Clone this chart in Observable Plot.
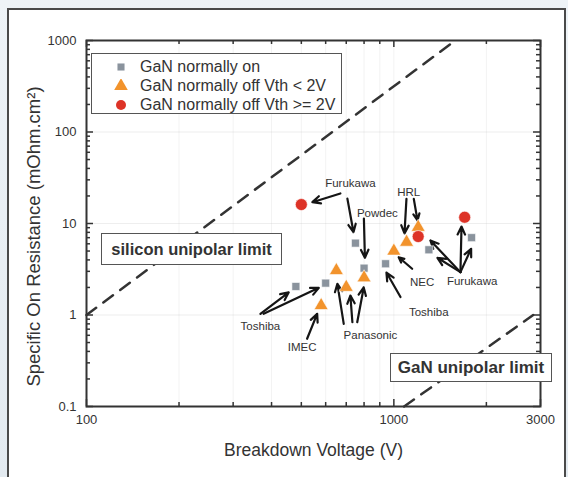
<!DOCTYPE html>
<html><head><meta charset="utf-8">
<script src="https://cdn.jsdelivr.net/npm/d3@7"></script>
<script src="https://cdn.jsdelivr.net/npm/@observablehq/plot@0.6"></script>
<style>
html,body{margin:0;padding:0;}
body{width:568px;height:477px;background:linear-gradient(#eef3f7,#e3eaf0);position:relative;overflow:hidden;font-family:"Liberation Sans",Arial,sans-serif;}
#panel{position:absolute;left:7px;top:8px;width:559px;height:490px;background:#fff;border:2px solid #4a4a4a;box-sizing:border-box;}
#chart{position:absolute;left:0;top:0;}
.box{position:absolute;border:1.5px solid #555;background:#fff;box-sizing:border-box;font-weight:bold;color:#333;display:flex;align-items:center;justify-content:center;white-space:nowrap;}
#legend{position:absolute;left:91px;top:53px;width:251px;height:61px;border:1.5px solid #555;background:#fff;box-sizing:border-box;padding-top:3px;}
.row{height:19px;line-height:19px;font-size:16px;color:#333;position:relative;white-space:nowrap;}
.row svg{position:absolute;left:22px;top:3px;}
.row span{position:absolute;left:48px;}
</style></head>
<body>
<div id="panel"></div>
<div id="chart"></div>
<div id="legend"></div>
<div class="box" id="si" style="left:101px;top:233px;width:181px;height:32px;font-size:16.5px;">silicon unipolar limit</div>
<div class="box" id="gan" style="left:390px;top:353px;width:162px;height:29px;font-size:17px;">GaN unipolar limit</div>
<script>
// ---- data ----
const seriesNames = ["GaN normally on", "GaN normally off Vth < 2V", "GaN normally off Vth >= 2V"];

const onV = [480, 600, 750, 800, 940, 1300, 1790];
const onR = [2.05, 2.23, 6.1, 3.25, 3.63, 5.16, 7.0];
const offLowV = [580, 650, 700, 800, 1000, 1100, 1200];
const offLowR = [1.27, 3.06, 2.01, 2.55, 5.0, 6.25, 9.1];
const offHighV = [500, 1200, 1700];
const offHighR = [16.1, 7.2, 11.7];

const siLimitV = [100, 1585];
const siLimitR = [1, 1000];
const ganLimitV = [1080, 2840];
const ganLimitR = [0.1, 1];

const labelText = ["Furukawa", "Powdec", "HRL", "NEC", "Furukawa", "Toshiba", "Toshiba", "IMEC", "Panasonic"];
const labelV = [722, 884, 1118, 1236, 1798, 1299, 368, 503, 839];
const labelR = [27.4, 13.0, 22, 2.28, 2.34, 1.07, 0.748, 0.445, 0.597];

const arrowFromV = [670, 706, 799, 1099, 1161, 1147, 1647, 1647, 1647, 1647, 1051, 368, 377, 522, 687, 733, 760];
const arrowFromR = [21.3, 18.7, 11.3, 18.6, 18.6, 3.2, 2.94, 2.94, 2.94, 2.94, 1.57, 1.03, 1.03, 0.55, 0.80, 0.834, 0.834];
const arrowToV = [543, 739, 805, 1083, 1194, 1037, 1315, 1386, 1660, 1784, 946, 455, 570, 563, 655, 722, 798];
const arrowToR = [17.1, 8.03, 4.22, 7.8, 10.8, 4.28, 6.52, 4.22, 9.27, 5.29, 2.91, 1.77, 1.98, 1.03, 2.19, 1.63, 2.0];

const xTicks = [100, 1000, 3000];
const yTicks = [0.1, 1, 10, 100, 1000];
const xMinor = [200, 300, 400, 500, 600, 700, 800, 900, 2000];
const yMinor = [0.1, 1, 10, 100].flatMap(d => [2,3,4,5,6,7,8,9].map(k => k * d));

// ---- styles ----
const colors = ["#8a939d", "#f2932c", "#dd3327"];
const symbols = ["square", "triangle", "circle"];
const radii = [4.5, 5.2, 6];

// ---- tables ----
const pts = [
  onV.map((v, i) => ({v, r: onR[i], s: 0})),
  offLowV.map((v, i) => ({v, r: offLowR[i], s: 1})),
  offHighV.map((v, i) => ({v, r: offHighR[i], s: 2}))
];
const siLine = siLimitV.map((v, i) => ({v, r: siLimitR[i]}));
const ganLine = ganLimitV.map((v, i) => ({v, r: ganLimitR[i]}));
const labels = labelText.map((t, i) => ({t, v: labelV[i], r: labelR[i]}));
const arrows = arrowFromV.map((v, i) => ({x1: v, y1: arrowFromR[i], x2: arrowToV[i], y2: arrowToR[i]}));

const W = 568, H = 477, mL = 86, mR = 28, mT = 40, mB = 71;
const pH = H - mT - mB, pW = W - mL - mR;
const ink = "#333";

const chart = Plot.plot({
  width: W, height: H,
  marginLeft: mL, marginRight: mR, marginTop: mT, marginBottom: mB,
  style: {background: "transparent", fontFamily: "Liberation Sans, Arial, sans-serif", color: ink},
  x: {type: "log", domain: [100, 3000], axis: null},
  y: {type: "log", domain: [0.1, 1000], axis: null},
  marks: [
    Plot.gridX(xTicks.concat(xMinor), {stroke: "#bbb", strokeOpacity: 0.18}),
    Plot.gridY(yTicks, {stroke: "#bbb", strokeOpacity: 0.25}),
    Plot.line(siLine, {x: "v", y: "r", stroke: ink, strokeWidth: 2.5, strokeDasharray: "12,9"}),
    Plot.line(ganLine, {x: "v", y: "r", stroke: ink, strokeWidth: 2.5, strokeDasharray: "12,9"}),
    Plot.arrow(arrows, {x1: "x1", y1: "y1", x2: "x2", y2: "y2", stroke: "#151515", strokeWidth: 2.2, headLength: 6, headAngle: 50}),
    ...pts.map((p, s) => Plot.dot(p, {x: "v", y: "r", symbol: symbols[s], r: radii[s], fill: colors[s], stroke: "#fff", strokeOpacity: 0.6, strokeWidth: 1})),
    Plot.text(labels, {x: "v", y: "r", text: "t", fontSize: 11.5, fill: ink}),
    // inward ticks on all four sides
    Plot.tickX(xTicks, {x: d => d, insetTop: pH - 7, stroke: ink, strokeWidth: 1.5}),
    Plot.tickX(xTicks, {x: d => d, insetBottom: pH - 7, stroke: ink, strokeWidth: 1.5}),
    Plot.tickX(xMinor, {x: d => d, insetTop: pH - 4, stroke: ink, strokeWidth: 1.5}),
    Plot.tickX(xMinor, {x: d => d, insetBottom: pH - 4, stroke: ink, strokeWidth: 1.5}),
    Plot.tickY(yTicks, {y: d => d, insetRight: pW - 7, stroke: ink, strokeWidth: 1.5}),
    Plot.tickY(yTicks, {y: d => d, insetLeft: pW - 7, stroke: ink, strokeWidth: 1.5}),
    Plot.tickY(yMinor, {y: d => d, insetRight: pW - 4, stroke: ink, strokeWidth: 1.5}),
    Plot.tickY(yMinor, {y: d => d, insetLeft: pW - 4, stroke: ink, strokeWidth: 1.5}),
    Plot.frame({stroke: ink, strokeWidth: 2}),
    Plot.axisX(xTicks, {tickSize: 0, tickPadding: 8, tickFormat: d => String(d), fontSize: 13, label: null}),
    Plot.axisY(yTicks, {tickSize: 0, tickPadding: 10, tickFormat: d => String(d), fontSize: 13, label: null}),
    Plot.text(["Breakdown Voltage (V)"], {frameAnchor: "bottom", dy: 44, textAnchor: "middle", lineAnchor: "middle", text: d => d, fontSize: 17.5, fill: ink}),
    Plot.text(["Specific On Resistance (mOhm.cm²)"], {frameAnchor: "left", dx: -52, dy: 13, rotate: -90, textAnchor: "middle", lineAnchor: "middle", text: d => d, fontSize: 18.5, fill: ink})
  ]
});
document.getElementById("chart").appendChild(chart);

// legend
const legend = document.getElementById("legend");
const legendSizes = [50, 80, 78];
seriesNames.forEach((name, i) => {
  const row = document.createElement("div");
  row.className = "row";
  const svg = d3.create("svg").attr("width", 14).attr("height", 14);
  const type = {square: d3.symbolSquare, triangle: d3.symbolTriangle, circle: d3.symbolCircle}[symbols[i]];
  svg.append("path").attr("transform", "translate(7,7)").attr("d", d3.symbol(type, legendSizes[i])()).attr("fill", colors[i]);
  row.appendChild(svg.node());
  const span = document.createElement("span");
  span.textContent = name;
  row.appendChild(span);
  legend.appendChild(row);
});
</script>
</body></html>
